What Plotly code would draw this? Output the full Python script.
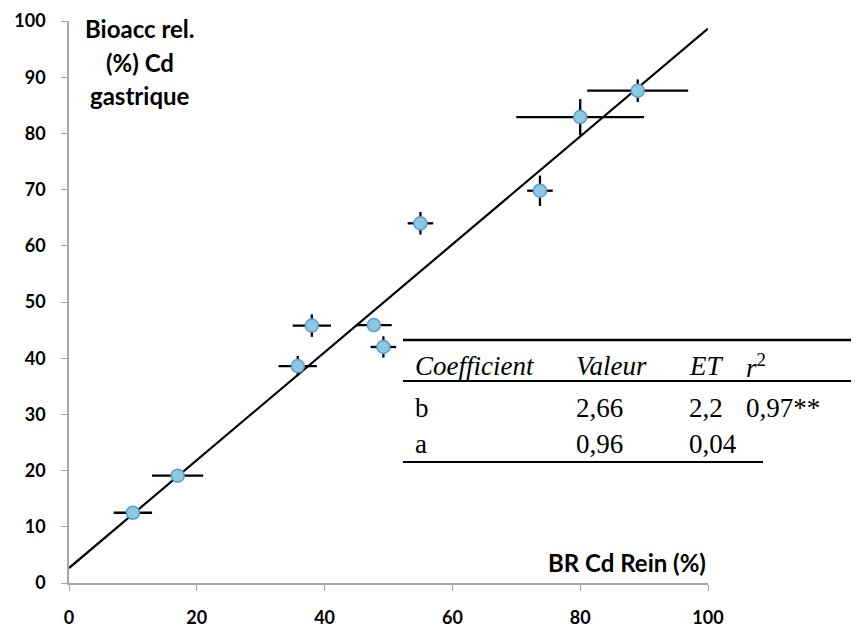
import plotly.graph_objects as go

# ---- data ----
br_rein = [10, 17, 35.8, 38, 47.7, 49.2, 55, 73.7, 80, 89]
bioacc = [12.5, 19.1, 38.6, 45.8, 45.9, 42, 64, 69.8, 82.9, 87.6]
br_err = [3, 4, 3, 3, 2.8, 2, 2, 2, 10, 7.9]
bioacc_err = [0, 0, 1.8, 2, 1.2, 1.9, 2, 2.7, 3.2, 2]

coef_names = ["b", "a"]
coef_values = ["2,66", "0,96"]
coef_et = ["2,2", "0,04"]
r2_text = "0,97**"
slope = 0.96
intercept = 2.66
line_x = [0, 100]
line_y = [intercept + slope * v for v in line_x]

W, H = 859, 628
# plot area in page pixels (page body has an 8px margin)
L, R, T, B = 69, 708, 21, 583
PAGE_OFF = 8


def px(x):
    return (x - L) / (R - L)


def py(y):
    return (B - y) / (B - T)


fig = go.Figure()
fig.add_trace(go.Scatter(x=line_x, y=line_y, mode="lines",
                         line=dict(color="black", width=2.2),
                         hoverinfo="skip", showlegend=False))
fig.add_trace(go.Scatter(
    x=br_rein, y=bioacc, mode="markers",
    marker=dict(size=13, color="#8DC9DE", line=dict(color="#5B9BD5", width=1.5)),
    error_x=dict(type="data", array=br_err, color="black", thickness=2.3, width=0),
    error_y=dict(type="data", array=bioacc_err, color="black", thickness=2.3, width=0),
    showlegend=False))

tick_font = dict(family="Lato", size=18, color="black", weight="bold")
fig.update_xaxes(range=[0, 100], dtick=20, showgrid=False, zeroline=False,
                 showline=True, linecolor="#A6A6A6", linewidth=1.5,
                 ticks="outside", ticklen=6, tickcolor="#A6A6A6",
                 ticklabelstandoff=12, tickfont=tick_font, automargin=False)
fig.update_yaxes(range=[0, 100], dtick=10, showgrid=False, zeroline=False,
                 showline=True, linecolor="#A6A6A6", linewidth=1.5,
                 ticks="outside", ticklen=6, tickcolor="#A6A6A6",
                 ticklabelstandoff=12, tickfont=tick_font, automargin=False)

annots = []
title_font = dict(family="Lato", size=24, color="black", weight="bold")
for txt, yy in [("Bioacc rel.", 28), ("(%) Cd", 62), ("gastrique", 95)]:
    annots.append(dict(x=px(140), y=py(yy), xref="paper", yref="paper",
                       text=txt, showarrow=False, xanchor="center", yanchor="middle",
                       font=title_font))
annots.append(dict(x=px(708), y=py(562), xref="paper", yref="paper",
                   text="BR Cd Rein (%)", showarrow=False, xanchor="right",
                   yanchor="middle", font=title_font))

tab_font = dict(family="Liberation Serif", size=27, color="black")
cols = [413, 574, 687, 744]
header = ["<i>Coefficient</i>", "<i>Valeur</i>", "<i>ET</i>", "<i>r</i><sup>2</sup>"]
for cx, txt in zip(cols, header):
    annots.append(dict(x=px(cx), y=py(366), xref="paper", yref="paper", text=txt,
                       showarrow=False, xanchor="left", yanchor="middle", font=tab_font))
rows_y = [408, 444]
for i, ry in enumerate(rows_y):
    vals = [coef_names[i], coef_values[i], coef_et[i]]
    if i == 0:
        vals.append(r2_text)
    for cx, txt in zip(cols, vals):
        annots.append(dict(x=px(cx), y=py(ry), xref="paper", yref="paper", text=txt,
                           showarrow=False, xanchor="left", yanchor="middle", font=tab_font))

shapes = [
    dict(type="line", xref="paper", yref="paper", x0=px(403), x1=px(859),
         y0=py(340), y1=py(340), line=dict(color="black", width=2.5)),
    dict(type="line", xref="paper", yref="paper", x0=px(403), x1=px(859),
         y0=py(381), y1=py(381), line=dict(color="black", width=2)),
    dict(type="line", xref="paper", yref="paper", x0=px(403), x1=px(763),
         y0=py(462), y1=py(462), line=dict(color="black", width=2)),
]

fig.update_layout(width=W, height=H,
                  margin=dict(l=L - PAGE_OFF, r=W - R + PAGE_OFF,
                              t=T - PAGE_OFF, b=H - B + PAGE_OFF),
                  plot_bgcolor="white", paper_bgcolor="white",
                  annotations=annots, shapes=shapes)

fig.write_html("out.html")
